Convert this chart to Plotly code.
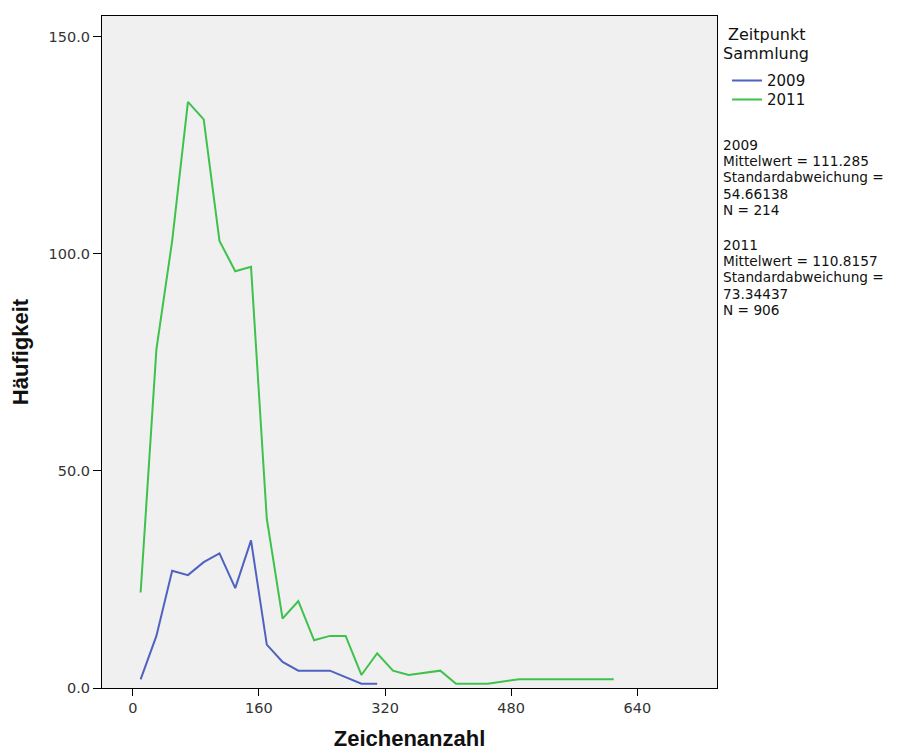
import plotly.graph_objects as go

# Bin midpoints (Zeichenanzahl) and frequencies; empty bins are not drawn
x_2009 = [10, 30, 50, 70, 90, 110, 130, 150, 170, 190, 210, 230, 250, 290, 310]
y_2009 = [2, 12, 27, 26, 29, 31, 23, 34, 10, 6, 4, 4, 4, 1, 1]

x_2011 = [10, 30, 50, 70, 90, 110, 130, 150, 170, 190, 210, 230, 250, 270, 290,
          310, 330, 350, 390, 410, 450, 490, 610]
y_2011 = [22, 78, 103, 135, 131, 103, 96, 97, 39, 16, 20, 11, 12, 12, 3,
          8, 4, 3, 4, 1, 1, 2, 2]

x_ticks = [0, 160, 320, 480, 640]
y_ticks = [0, 50, 100, 150]

legend_title = ["Zeitpunkt", "Sammlung"]
stats_2009 = ["2009", "Mittelwert = 111.285", "Standardabweichung =", "54.66138", "N = 214"]
stats_2011 = ["2011", "Mittelwert = 110.8157", "Standardabweichung =", "73.34437", "N = 906"]

FONT = "Liberation Sans, Arial, sans-serif"
WIDE = "DejaVu Sans, Verdana, sans-serif"
BLUE = "#4F62C0"
GREEN = "#3DC24B"

# page body has an ~7px offset; figure sized so that the plot lands where intended
OFF = 7
W, H = 900 - 8, 755 - 8
PL, PR, PT, PB = 101, 716, 15, 687          # plot area in screen pixels
PW, PH = PR - PL, PB - PT


def px(xs):
    return (xs - PL) / PW


def py(ys):
    return 1 - (ys - PT) / PH


fig = go.Figure()
fig.add_trace(go.Scatter(x=x_2009, y=y_2009, mode="lines", name="2009",
                         line=dict(color=BLUE, width=2), legend="legend"))
fig.add_trace(go.Scatter(x=x_2011, y=y_2011, mode="lines", name="2011",
                         line=dict(color=GREEN, width=2), legend="legend2"))

LEG_FONT = dict(size=15, color="#111111", family=WIDE)
LEG_OFF = 17.7
fig.update_layout(
    width=W, height=H,
    margin=dict(l=PL - OFF, r=W - (PR - OFF), t=PT - OFF, b=H - (PB - OFF), autoexpand=False),
    paper_bgcolor="white",
    plot_bgcolor="#F0F0F0",
    font=dict(family=FONT, size=15, color="#222222"),
    showlegend=True,
    legend=dict(x=px(726), xanchor="left", y=py(81 - LEG_OFF), yanchor="top",
                bgcolor="rgba(0,0,0,0)", font=LEG_FONT, itemwidth=30),
    legend2=dict(x=px(726), xanchor="left", y=py(100 - LEG_OFF), yanchor="top",
                 bgcolor="rgba(0,0,0,0)", font=LEG_FONT, itemwidth=30),
    xaxis=dict(
        range=[-39, 741], tickvals=x_ticks, ticktext=[str(v) for v in x_ticks],
        showgrid=False, zeroline=False, showline=True, linecolor="black", linewidth=1,
        mirror=True, ticks="outside", ticklen=7, tickcolor="black", automargin=False,
        tickfont=dict(size=14.5, color="#333333", family=WIDE),
        title=dict(text="<b>Zeichenanzahl</b>", font=dict(size=22, color="#111111", family=FONT),
                   standoff=15),
    ),
    yaxis=dict(
        range=[0, 154.8], tickvals=y_ticks, tickformat=".1f",
        showgrid=False, zeroline=False, showline=True, linecolor="black", linewidth=1,
        mirror=True, ticks="outside", ticklen=8, tickcolor="black", automargin=False,
        tickfont=dict(size=14.5, color="#333333", family=WIDE),
        title=dict(text="<b>Häufigkeit</b>", font=dict(size=22, color="#111111", family=FONT),
                   standoff=24),
    ),
)

# legend title
for txt, xs, ys in [(legend_title[0], 725, 33), (legend_title[1], 720, 52)]:
    fig.add_annotation(text=txt, xref="paper", yref="paper", x=px(xs), y=py(ys),
                       xanchor="left", yanchor="middle", showarrow=False,
                       font=dict(size=16, color="#111111", family=WIDE))

# statistics text
LINE = 16.2
for block, y0 in [(stats_2009, 144), (stats_2011, 244)]:
    for i, txt in enumerate(block):
        fig.add_annotation(text=txt, xref="paper", yref="paper",
                           x=px(720), y=py(y0 + i * LINE),
                           xanchor="left", yanchor="middle", showarrow=False,
                           font=dict(size=13.7, color="#111111", family=WIDE))

fig.write_html("out.html")
